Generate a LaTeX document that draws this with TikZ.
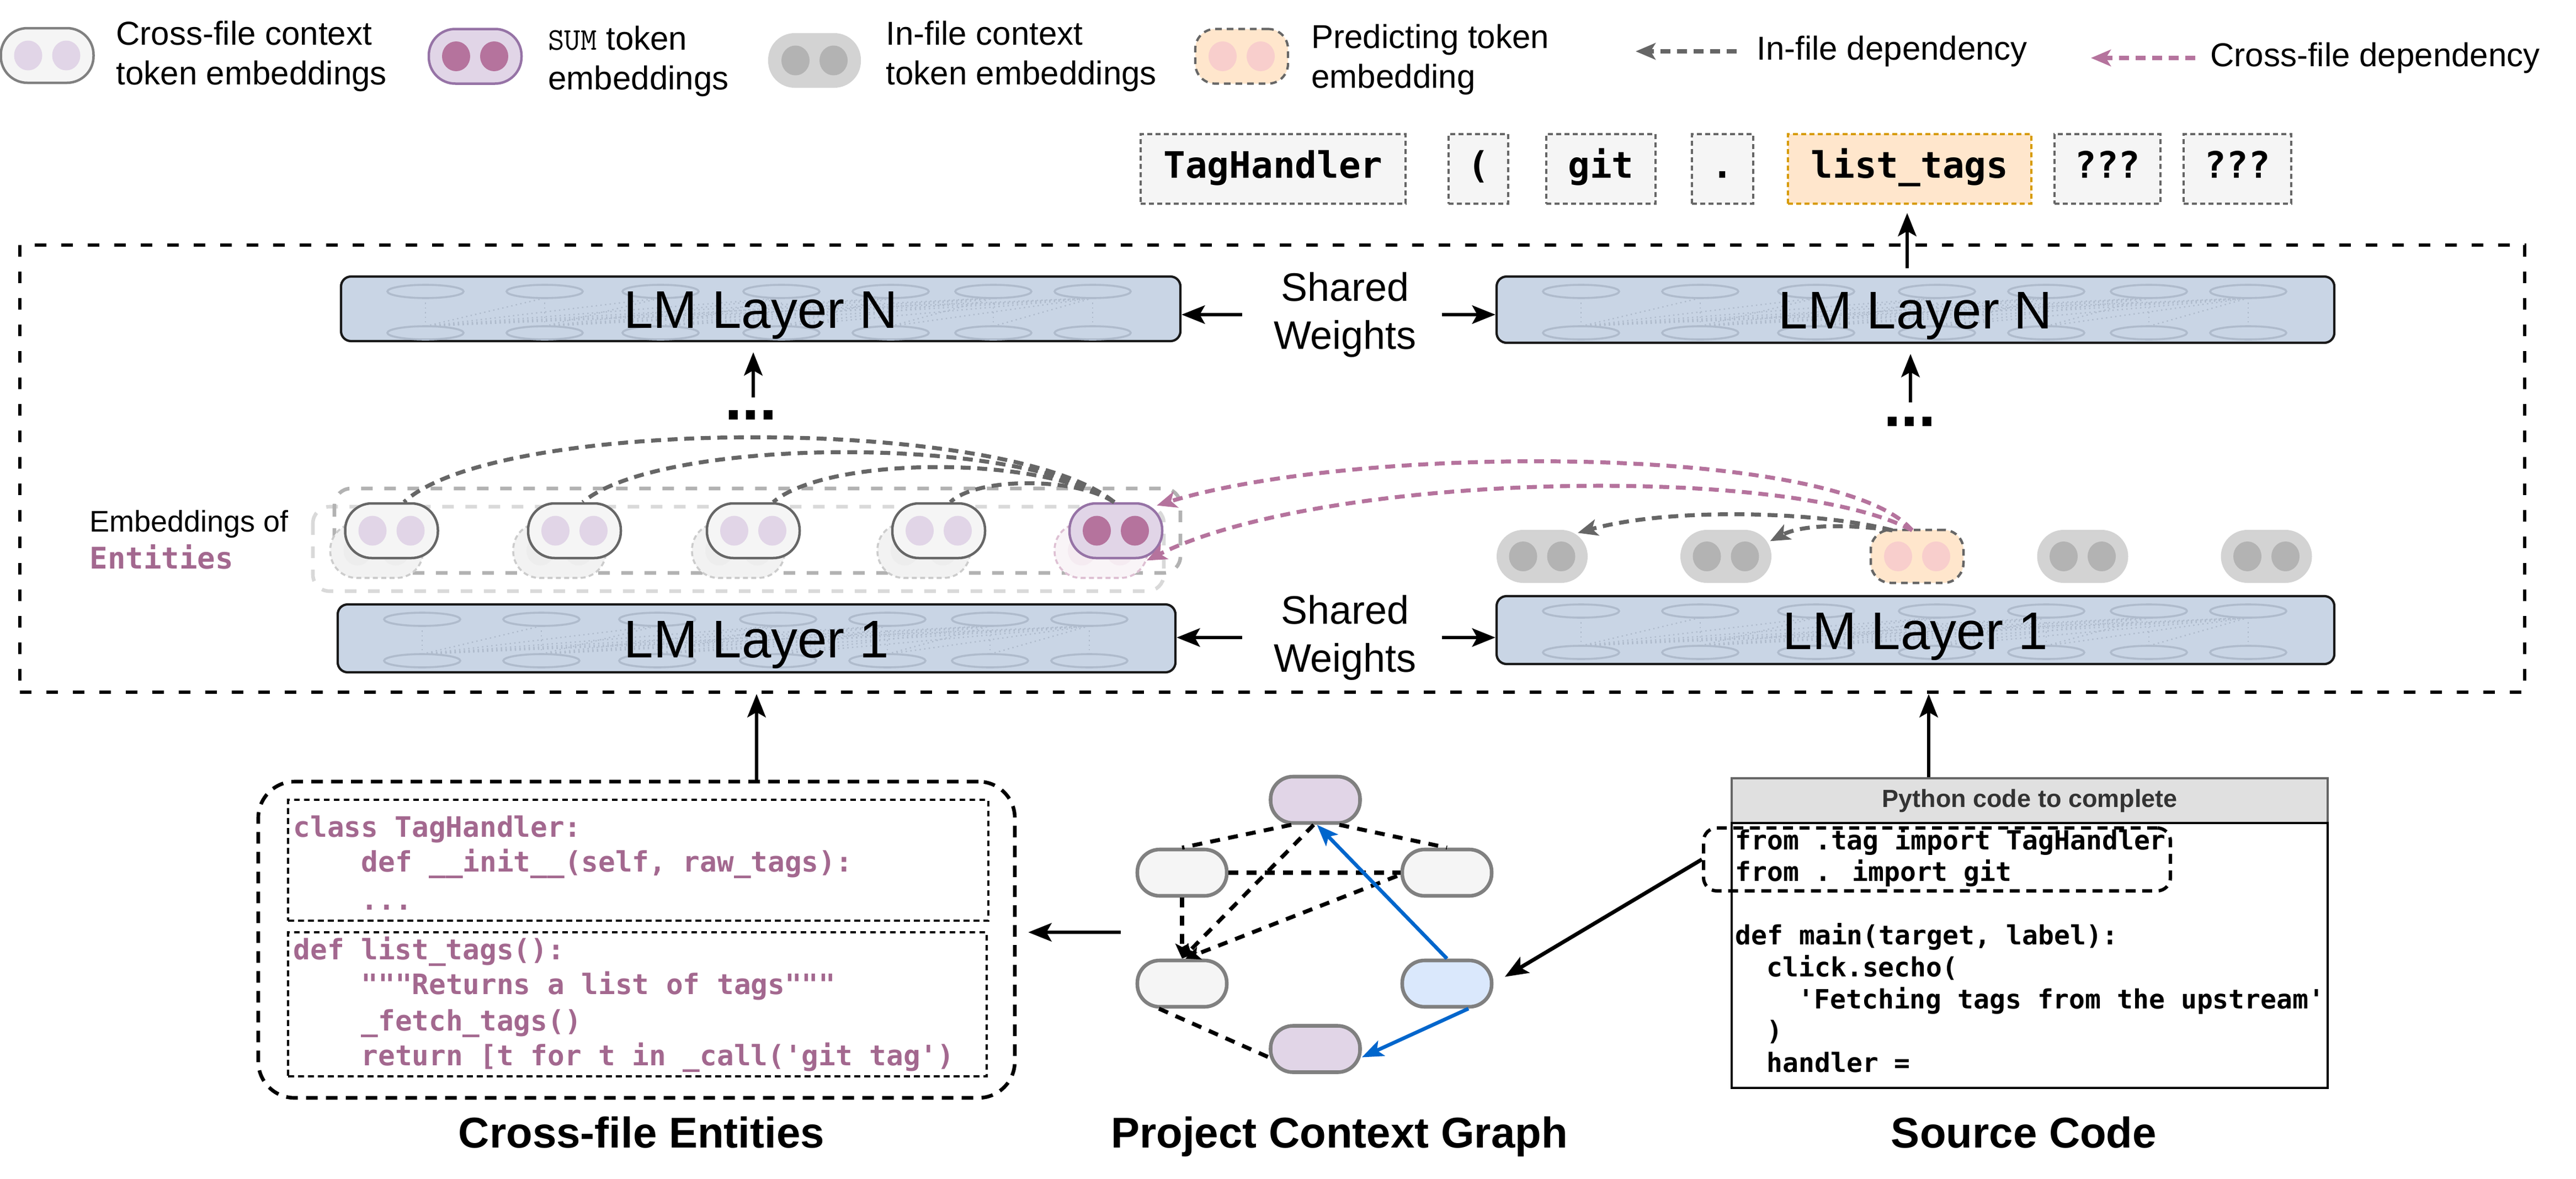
\documentclass[tikz,border=0pt]{standalone}
\usepackage{fontspec}
\setmainfont{Liberation Sans}
\newfontfamily\codefont{DejaVu Sans Mono}[Ligatures=TeXOff]
\usetikzlibrary{arrows.meta,calc}
\definecolor{lav}{HTML}{E1D5E7}
\definecolor{plum}{HTML}{B5739D}
\definecolor{plumdk}{HTML}{9673A6}
\definecolor{codepurple}{HTML}{A3688F}
\definecolor{lmfill}{HTML}{C9D5E5}
\definecolor{lmline}{HTML}{AFBBCC}
\definecolor{lightbg}{HTML}{F5F5F5}
\definecolor{midgray}{HTML}{666666}
\definecolor{bordergray}{HTML}{808080}
\definecolor{pillgray}{HTML}{D3D3D3}
\definecolor{pillgraydk}{HTML}{B3B3B3}
\definecolor{peach}{HTML}{FFE6CC}
\definecolor{pinkdot}{HTML}{F8CECC}
\definecolor{orangeln}{HTML}{D79B00}
\definecolor{bluefill}{HTML}{DAE8FC}
\definecolor{blueln}{HTML}{0066CC}
\definecolor{headgray}{HTML}{E0E0E0}
\newcommand\fsz[2]{\fontsize{#1}{#2}\selectfont}
\newcommand\pilldots[2]{%
  \fill[#2] ($(#1.center)+(-11.5,0)$) ellipse[x radius=8.5pt, y radius=9pt];
  \fill[#2] ($(#1.center)+(11.5,0)$) ellipse[x radius=8.5pt, y radius=9pt];}
\newcommand\lmdeco[2]{%
  \foreach \o in {51,123,193,266,332,394,454}{
    \draw[lmell] (#1+\o,#2+9) ellipse[x radius=23pt, y radius=4pt];
    \draw[lmell] (#1+\o,#2+34) ellipse[x radius=23pt, y radius=4pt];
    \draw[lmdot] (#1+\o,#2+13) -- (#1+\o,#2+30);
  }
  \foreach \a [count=\ia] in {51,123,193,266,332,394}{
    \foreach \b [count=\ib] in {123,193,266,332,394,454}{
      \ifnum\ib<\ia\relax\else\draw[lmdot] (#1+\a,#2+30) -- (#1+\b,#2+13);\fi
    }
  }}
\begin{document}
\begin{tikzpicture}[x=1pt,y=-1pt,
  pill/.style={rectangle, rounded corners=16pt, minimum width=56pt, minimum height=33pt, inner sep=0pt},
  bpill/.style={pill, fill=black!5, draw=black!20, dash pattern=on 3pt off 2pt, line width=1.2pt},
  legtext/.style={anchor=west, align=left, inner sep=0pt, font=\fsz{20}{24}},
  tok/.style={draw=midgray, dash pattern=on 3pt off 2pt, line width=1.2pt, fill=lightbg, minimum height=42pt, inner sep=0pt, font=\codefont\bfseries\fsz{22}{26}, text height=15pt, text depth=4pt},
  lm/.style={draw=black!90, line width=1.4pt, fill=lmfill, rounded corners=6pt, inner sep=0pt},
  lmell/.style={draw=lmline, line width=1.2pt},
  lmdot/.style={draw=lmline, line width=0.8pt, dotted},
  lmtext/.style={anchor=base, inner sep=0pt, font=\fsz{32}{36}},
  swtext/.style={align=center, inner sep=0pt, font=\fsz{24}{29}},
  bigarrow/.style={line width=2.3pt, -{Stealth[length=14pt, width=11pt, inset=3pt]}},
  infline/.style={draw=midgray, line width=2.4pt, dash pattern=on 6pt off 4pt},
  infarrow/.style={infline, -{Stealth[length=12pt, width=10pt, inset=3pt]}},
  crsarrow/.style={draw=plum, line width=2.4pt, dash pattern=on 6pt off 4pt, -{Stealth[length=12pt, width=10pt, inset=3pt]}},
  grpdash/.style={line width=2.2pt, dash pattern=on 7pt off 7pt, rounded corners=10pt},
  ecode/.style={anchor=west, inner sep=0pt, font=\codefont\bfseries\fsz{17}{21}, text=codepurple, text height=13pt, text depth=4pt},
  scode/.style={anchor=west, inner sep=0pt, font=\codefont\bfseries\fsz{16}{19}, text height=12pt, text depth=4pt},
  caption/.style={anchor=base, inner sep=0pt, font=\bfseries\fsz{26}{30}},
  gnode/.style={rectangle, rounded corners=13.5pt, minimum width=54pt, minimum height=28pt, inner sep=0pt, draw=bordergray, line width=2.2pt},
  gdash/.style={line width=2.4pt, dash pattern=on 6pt off 5pt},
  gdasharrow/.style={gdash, -{Stealth[length=9pt, width=8pt, inset=2pt]}},
  bluearrow/.style={draw=blueln, line width=2.2pt, -{Stealth[length=13pt, width=10pt, inset=3pt]}}
]
\useasboundingbox (0,0) rectangle (1556,712);

% ---------------- legend ----------------
\node[pill, draw=bordergray, line width=1.5pt, fill=lightbg] (lg1) at (28.5,33.5) {};
\pilldots{lg1}{lav}
\node[legtext] (lg1t) at (70,34) {Cross-file context\\token embeddings};
\node[pill, draw=plumdk, line width=1.5pt, fill=lav] (lg2) at (287,34) {};
\pilldots{lg2}{plum}
\node[legtext] (lg2t) at (331,37) {{\ttfamily\fsz{19}{24}SUM} token\\embeddings};
\node[pill, fill=pillgray] (lg3) at (492,36.5) {};
\pilldots{lg3}{pillgraydk}
\node[legtext] (lg3t) at (535,34) {In-file context\\token embeddings};
\node[pill, rounded corners=12pt, draw=midgray, dash pattern=on 4pt off 3pt, line width=1.4pt, fill=peach] (lg4) at (750,34) {};
\pilldots{lg4}{pinkdot}
\node[legtext] (lg4t) at (792,36) {Predicting token\\embedding};
\node[legtext] (lg5t) at (1061,31) {In-file dependency};
\draw[infarrow] ($(lg5t.west)+(-12,0)$) -- ($(lg5t.west)+(-73,0)$);
\node[legtext] (lg6t) at (1335,35) {Cross-file dependency};
\draw[crsarrow] ($(lg6t.west)+(-9,0)$) -- ($(lg6t.west)+(-72,0)$);

% ---------------- output tokens ----------------
\node[tok, minimum width=160pt] (tk1) at (769,102) {TagHandler};
\node[tok, minimum width=36pt] (tk2) at (893,102) {(};
\node[tok, minimum width=66pt] (tk3) at (967,102) {git};
\node[tok, minimum width=37pt] (tk4) at (1040.5,102) {.};
\node[tok, minimum width=147pt, draw=orangeln, fill=peach] (tk5) at (1153.5,102) {list\_tags};
\node[tok, minimum width=64pt] (tk6) at (1273,102) {???};
\node[tok, minimum width=65pt] (tk7) at (1351.5,102) {???};

% ---------------- model frame ----------------
\node[draw, line width=2.2pt, dash pattern=on 7pt off 9pt, minimum width=1513pt, minimum height=270pt, inner sep=0pt] (outer) at (768.5,283) {};

\node[lm, minimum width=507pt, minimum height=39pt] (lmNL) at (459.5,186.5) {};
\lmdeco{206}{167}
\node[lmtext] (lmNLt) at ($(lmNL.center)+(0,11.5)$) {LM Layer N};
\node[lm, minimum width=506pt, minimum height=40pt] (lmNR) at (1157,187) {};
\lmdeco{904}{167}
\node[lmtext] (lmNRt) at ($(lmNR.center)+(0,11.5)$) {LM Layer N};
\node[lm, minimum width=506pt, minimum height=41pt] (lmL1) at (457,385.5) {};
\lmdeco{204}{365}
\node[lmtext] (lmL1t) at ($(lmL1.center)+(0,11.5)$) {LM Layer 1};
\node[lm, minimum width=506pt, minimum height=41pt] (lmR1) at (1157,380.5) {};
\lmdeco{904}{360}
\node[lmtext] (lmR1t) at ($(lmR1.center)+(0,11.5)$) {LM Layer 1};

\node[swtext] (swN) at (812.5,190) {Shared\\Weights};
\draw[bigarrow] ($(swN.west)+(-19,0)$) -- (swN.west -| lmNL.east);
\draw[bigarrow] ($(swN.east)+(15,0)$) -- (swN.east -| lmNR.west);
\node[swtext] (sw1) at (812.5,385) {Shared\\Weights};
\draw[bigarrow] ($(sw1.west)+(-19,0)$) -- (sw1.west -| lmL1.east);
\draw[bigarrow] ($(sw1.east)+(15,0)$) -- (sw1.east -| lmR1.west);

% dots and vertical arrows
\node[anchor=base, inner sep=0pt, font=\bfseries\fsz{38}{40}] (dotsL) at (453.5,253.5) {...};
\node[anchor=base, inner sep=0pt, font=\bfseries\fsz{38}{40}] (dotsR) at (1153.5,257.5) {...};
\coordinate (aL) at (455,240);
\coordinate (aR) at (1154,243);
\coordinate (aT) at (1152,162);
\draw[bigarrow, shorten >=6pt] (aL) -- (aL |- lmNL.south);
\draw[bigarrow, shorten >=6pt] (aR) -- (aR |- lmNR.south);
\draw[bigarrow, shorten >=5pt] (aT) -- (aT |- tk5.south);

% ---------------- entity embeddings ----------------
\node[anchor=base west, inner sep=0pt, font=\fsz{18}{22}] (embt) at (54,321) {Embeddings of};
\node[anchor=base west, inner sep=0pt, font=\codefont\bfseries\fsz{18}{22}, text=codepurple] (entt) at (54,343.5) {Entities};

\draw[grpdash, draw=black!15] (189,306) rectangle (703,357);
\draw[grpdash, draw=black!30] (202,295) rectangle (713,346);

\foreach \i/\x in {1/236.5,2/347,3/455,4/567}{
  \node[bpill] (b\i) at (\x-9,332.5) {};
  \pilldots{b\i}{black!7}
}
\node[bpill, draw=plum!45, fill=plum!8] (b5) at (665,332.5) {};
\pilldots{b5}{plum!14}
\foreach \i/\x in {1/236.5,2/347,3/455,4/567}{
  \node[pill, draw=midgray, line width=1.5pt, fill=lightbg] (e\i) at (\x,320.5) {};
  \pilldots{e\i}{lav}
}
\node[pill, draw=plumdk, line width=1.5pt, fill=lav] (e5) at (674,320.5) {};
\pilldots{e5}{plum}

\draw[infline] ($(e5.north)+(-1,0)$) .. controls (610,251) and (300,251) .. ($(e1.north)+(7.5,0)$);
\draw[infline] ($(e5.north)+(-1,0)$) .. controls (620,263) and (400,263) .. ($(e2.north)+(5,0)$);
\draw[infline] ($(e5.north)+(-1,0)$) .. controls (630,275) and (500,275) .. ($(e3.north)+(12,0)$);
\draw[infline] ($(e5.north)+(-1,0)$) .. controls (650,288) and (590,288) .. ($(e4.north)+(7,0)$);

% ---------------- in-file tokens ----------------
\foreach \i/\x in {1/931.5,2/1042.5,4/1258,5/1369}{
  \node[pill, fill=pillgray, minimum width=55pt, minimum height=32pt] (in\i) at (\x,336) {};
  \pilldots{in\i}{pillgraydk}
}
\node[pill, rounded corners=12pt, fill=peach, draw=midgray, dash pattern=on 4pt off 3pt, line width=1.5pt, minimum width=56pt, minimum height=32pt] (pred) at (1158,336) {};
\pilldots{pred}{pinkdot}

\draw[crsarrow] ($(pred.north)+(-3,1)$) .. controls (1110,268) and (820,268) .. ($(e5.north east)+(-4,2)$);
\draw[crsarrow] ($(pred.north)+(-3,1)$) .. controls (1080,280) and (800,285) .. ($(b5.east)+(-1,6)$);
\draw[infarrow] ($(pred.north)+(-15,1)$) .. controls (1100,309) and (1010,306) .. ($(in1.north)+(21.5,2)$);
\draw[infarrow] ($(pred.north)+(-15,1)$) .. controls (1120,317) and (1090,316) .. ($(in2.north east)+(-1,7)$);

% ---------------- cross-file entities ----------------
\node[draw, line width=2.2pt, dash pattern=on 7pt off 5pt, rounded corners=22pt, minimum width=457pt, minimum height=191pt, inner sep=0pt] (entbox) at (384.5,567.5) {};
\node[draw, line width=1.3pt, dash pattern=on 3.5pt off 2.5pt, minimum width=423pt, minimum height=73pt, inner sep=0pt] (ent1) at (385.5,519.5) {};
\node[draw, line width=1.3pt, dash pattern=on 3.5pt off 2.5pt, minimum width=422pt, minimum height=87pt, inner sep=0pt] (ent2) at (385,606.5) {};
\node[ecode] (c1) at (177,501) {class TagHandler:};
\node[ecode] (c2) at (218,522) {def \_\_init\_\_(self, raw\_tags):};
\node[ecode] (c3) at (218,545) {...};
\node[ecode] (c4) at (177,575) {def list\_tags():};
\node[ecode] (c5) at (218,596) {"""Returns a list of tags"""};
\node[ecode] (c6) at (218,618) {\_fetch\_tags()};
\node[ecode] (c7) at (218,639) {return [t for t in \_call('git tag')};
\node[caption] (cap1) at (387.5,693) {Cross-file Entities};
\draw[bigarrow] (lmL1.center |- entbox.north) -- (lmL1.center |- outer.south);

% ---------------- project context graph ----------------
\node[gnode, fill=lav] (gT) at (794.5,483) {};
\node[gnode, fill=lightbg] (gLU) at (714,527) {};
\node[gnode, fill=lightbg] (gRU) at (874,527) {};
\node[gnode, fill=lightbg] (gLL) at (714,594) {};
\node[gnode, fill=bluefill] (gRL) at (874,594) {};
\node[gnode, fill=lav] (gB) at (794.5,633.5) {};
\draw[gdash] ($(gT.south)+(-14.5,0)$) -- (gLU.north);
\draw[gdash] ($(gT.south)+(14.5,0)$) -- (gRU.north);
\draw[gdash] (gLU.east) -- (gRU.west);
\draw[gdasharrow] (gLU.south) -- (gLL.north);
\draw[gdasharrow] ($(gT.south)+(-1,0)$) -- (gLL.north);
\draw[gdasharrow] ($(gRU.west)+(-2,2)$) -- ($(gLL.north)+(2,0)$);
\draw[gdash] ($(gLL.south)+(-14,0)$) -- ($(gB.west)+(0,5)$);
\draw[bluearrow] (gRL.north) -- ($(gT.south)+(1,0)$);
\draw[bluearrow] ($(gRL.south)+(13,0)$) -- ($(gB.east)+(0,5)$);
\node[caption] (cap2) at (809,693) {Project Context Graph};
\coordinate (gIn) at (677,563);
\draw[bigarrow, shorten >=7pt] (gIn) -- (gIn -| entbox.east);

% ---------------- source code ----------------
\node[draw=midgray, line width=1.3pt, fill=headgray, minimum width=360pt, minimum height=27pt, inner sep=0pt, font=\bfseries\fsz{15}{18}, text=black!80] (srcHead) at (1226,483.5) {Python code to complete};
\node[draw=black, line width=1.6pt, minimum width=360pt, minimum height=160pt, inner sep=0pt] (srcBody) at (1226,577) {};
\node[scode] (s1) at (1048,509) {from .tag import TagHandler};
\node[scode] (s2) at (1048,528.2) {from . import git};
\node[scode] (s3) at (1048,566.6) {def main(target, label):};
\node[scode] (s4) at (1067,585.8) {click.secho(};
\node[scode] (s5) at (1086,605) {'Fetching tags from the upstream'};
\node[scode] (s6) at (1067,624.2) {)};
\node[scode] (s7) at (1067,643.4) {handler =};
\node[draw, line width=2pt, dash pattern=on 6pt off 4pt, rounded corners=8pt, minimum width=282pt, minimum height=38pt, inner sep=0pt] (impbox) at (1170,519) {};
\node[caption] (cap3) at (1222.5,693) {Source Code};
\coordinate (upR) at (1165,0);
\draw[bigarrow] (upR |- srcHead.north) -- (upR |- outer.south);
\draw[bigarrow, shorten >=8pt] (impbox.west) -- (gRL.east);
\end{tikzpicture}
\end{document}
